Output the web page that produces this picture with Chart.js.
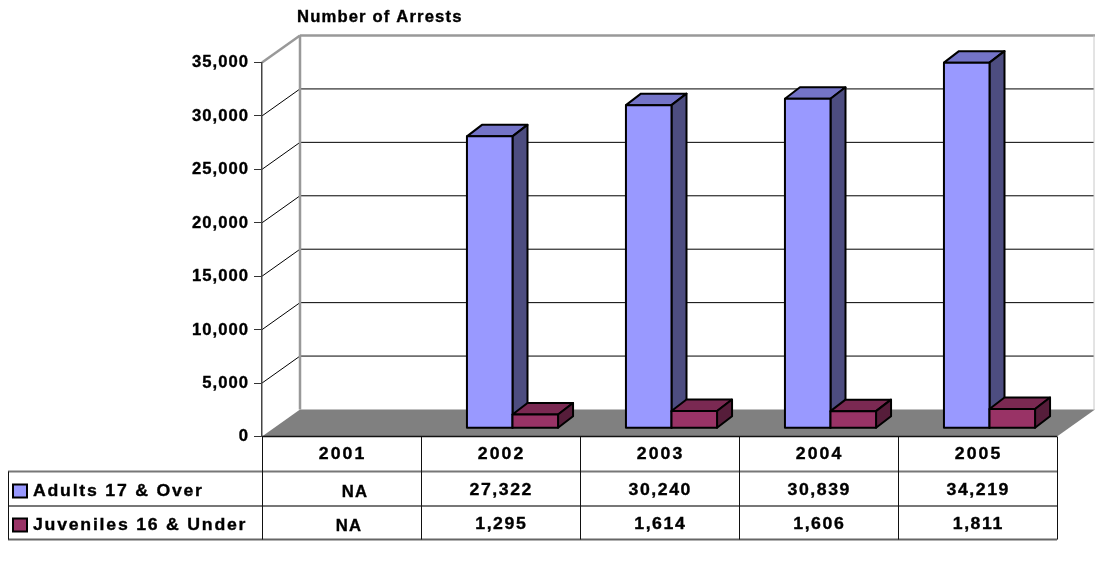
<!DOCTYPE html>
<html><head><meta charset="utf-8">
<script src="https://cdn.jsdelivr.net/npm/chart.js@4.4.0/dist/chart.umd.min.js"></script>
<style>html,body{margin:0;padding:0;background:#fff;}canvas{display:block;}</style>
</head><body>
<canvas id="c" width="1095" height="561"></canvas>
<script>
const chartTitle = 'Number of Arrests';
const categories = ['2001', '2002', '2003', '2004', '2005'];
const seriesNames = ['Adults 17 & Over', 'Juveniles 16 & Under'];
const adults = [null, 27322, 30240, 30839, 34219];
const juveniles = [null, 1295, 1614, 1606, 1811];
const yMax = 35000;
const yStep = 5000;
const missingLabel = 'NA';

const FONT = "'Liberation Sans', Arial, sans-serif";
const WALL = { dx: 38, dy: 27 };
const BAR_POS = { dx: 12, dy: 8.2 };
const BAR_DEPTH = { dx: 15, dy: 11.5 };
const COLORS = [
  { front: '#9999FF', top: '#7474C8', side: '#4D4D80' },
  { front: '#993366', top: '#7A2952', side: '#561D3A' }
];

function poly(ctx, pts, fill, stroke, lw) {
  ctx.beginPath();
  ctx.moveTo(pts[0][0], pts[0][1]);
  for (let i = 1; i < pts.length; i++) ctx.lineTo(pts[i][0], pts[i][1]);
  ctx.closePath();
  if (fill) { ctx.fillStyle = fill; ctx.fill(); }
  if (stroke) { ctx.strokeStyle = stroke; ctx.lineWidth = lw || 1; ctx.stroke(); }
}
function line(ctx, x0, y0, x1, y1, color, lw) {
  ctx.beginPath(); ctx.moveTo(x0, y0); ctx.lineTo(x1, y1);
  ctx.strokeStyle = color; ctx.lineWidth = lw; ctx.stroke();
}
// bold Arial-like text, slightly widened and letter-spaced like the original rendering
function text(ctx, s, x, y, size, ls, align) {
  const sx = 1.04;
  ctx.save();
  ctx.font = 'bold ' + size + 'px ' + FONT;
  ctx.letterSpacing = ls + 'px';
  ctx.fillStyle = '#000';
  ctx.strokeStyle = '#000';
  ctx.lineWidth = 0.35;
  ctx.textAlign = align || 'left';
  ctx.textBaseline = 'middle';
  let shift = 0;
  if (align === 'right') shift = ls * sx;
  else if (align === 'center') shift = ls * sx / 2;
  ctx.translate(x + shift, y);
  ctx.scale(sx, 1);
  ctx.fillText(s, 0, 0);
  ctx.strokeText(s, 0, 0);
  ctx.restore();
}

const scene3d = {
  id: 'scene3d',
  beforeDraw(chart) {
    const ctx = chart.ctx;
    const a = chart.chartArea;
    const ys = chart.scales.y;
    const L = a.left, R = a.right, T = a.top, B = a.bottom;
    const bx = L + WALL.dx, bT = T - WALL.dy, bB = B - WALL.dy, bR = R + WALL.dx - 1;
    ctx.save();
    ctx.fillStyle = '#fff'; ctx.fillRect(0, 0, chart.width, chart.height);
    poly(ctx, [[L, B], [R, B], [R + WALL.dx, bB], [bx, bB]], '#808080');
    ys.ticks.forEach(t => {
      if (t.value <= 0 || t.value >= yMax) return;
      const y = ys.getPixelForValue(t.value);
      line(ctx, L, y, bx, y - WALL.dy, '#000', 1);
      line(ctx, bx, y - WALL.dy, bR, y - WALL.dy, '#000', 1);
    });
    line(ctx, L, T, bx, bT, '#999', 2.5);
    line(ctx, bx, bT, bx, bB, '#999', 2.5);
    line(ctx, bx, bT, bR + 1, bT, '#999', 2.5);
    line(ctx, bR, bT, bR, bB, '#c8c8c8', 1);
    ctx.restore();
  },
  afterDatasetsDraw(chart) {
    const ctx = chart.ctx;
    ctx.save();
    ctx.lineJoin = 'round';
    const n = chart.data.labels.length;
    for (let i = 0; i < n; i++) {
      chart.data.datasets.forEach((ds, di) => {
        const el = chart.getDatasetMeta(di).data[i];
        if (!el || ds.data[i] == null) return;
        const p = el.getProps(['x', 'y', 'base', 'width'], true);
        const c = COLORS[di];
        const x0 = p.x - p.width / 2 + BAR_POS.dx, x1 = p.x + p.width / 2 + BAR_POS.dx;
        const yt = p.y - BAR_POS.dy, yb = p.base - BAR_POS.dy;
        const dx = BAR_DEPTH.dx, dy = BAR_DEPTH.dy;
        poly(ctx, [[x0, yt], [x1, yt], [x1 + dx, yt - dy], [x0 + dx, yt - dy]], c.top, '#000', 2);
        poly(ctx, [[x1, yt], [x1 + dx, yt - dy], [x1 + dx, yb - dy], [x1, yb]], c.side, '#000', 2);
        poly(ctx, [[x0, yt], [x1, yt], [x1, yb], [x0, yb]], c.front, '#000', 2);
      });
    }
    ctx.restore();
  },
  afterDraw(chart) {
    const ctx = chart.ctx;
    const a = chart.chartArea;
    const xs = chart.scales.x, ys = chart.scales.y;
    const n = categories.length;
    const edges = [a.left];
    for (let i = 0; i < n - 1; i++) edges.push((xs.getPixelForValue(i) + xs.getPixelForValue(i + 1)) / 2);
    edges.push(a.right);
    const rowTop = a.bottom, r1 = 471.5, r2 = 506, r3 = 539.5, legL = 8;
    ctx.save();
    ys.ticks.forEach(t => {
      text(ctx, t.label, 248, ys.getPixelForValue(t.value) + 0.5, 16, 1.0, 'right');
    });
    line(ctx, a.left, rowTop, a.right, rowTop, '#111', 1.5);
    line(ctx, legL, r1, a.right, r1, '#777', 2);
    line(ctx, legL, r2, a.right, r2, '#777', 2);
    line(ctx, legL, r3, a.right, r3, '#666', 2);
    edges.forEach(x => line(ctx, Math.round(x) + 0.5, rowTop, Math.round(x) + 0.5, r3, '#111', 1));
    line(ctx, legL + 0.5, r1, legL + 0.5, r3, '#111', 1);
    xs.getLabels().forEach((lab, i) => {
      text(ctx, lab, xs.getPixelForValue(i), 454, 17, 2.0, 'center');
    });
    text(ctx, chartTitle, 297, 17.5, 16, 1.1, 'left');
    const rowsY = [490.5, 524.5];
    const series = [adults, juveniles];
    const naShift = [13, 7];
    series.forEach((vals, si) => {
      const y = rowsY[si];
      ctx.fillStyle = COLORS[si].front;
      ctx.fillRect(13, y - 6, 14, 13);
      ctx.strokeStyle = '#000'; ctx.lineWidth = 2;
      ctx.strokeRect(13, y - 6, 14, 13);
      text(ctx, seriesNames[si], 33, y + 1, 17, 1.7, 'left');
      vals.forEach((v, i) => {
        const cx = (edges[i] + edges[i + 1]) / 2;
        if (v == null) text(ctx, missingLabel, cx + naShift[si], y + 2, 16, 1.2, 'center');
        else text(ctx, v.toLocaleString('en-US'), cx, y, 17, 1.5, 'center');
      });
    });
    ctx.restore();
  }
};

new Chart(document.getElementById('c'), {
  type: 'bar',
  data: {
    labels: categories,
    datasets: [
      { label: seriesNames[0], data: adults, backgroundColor: 'rgba(0,0,0,0)', borderWidth: 0 },
      { label: seriesNames[1], data: juveniles, backgroundColor: 'rgba(0,0,0,0)', borderWidth: 0 }
    ]
  },
  options: {
    responsive: false,
    devicePixelRatio: 1,
    animation: false,
    events: [],
    categoryPercentage: 0.573,
    barPercentage: 1.0,
    layout: { padding: { left: 0, top: 62.5, right: 38, bottom: 0 } },
    plugins: { legend: { display: false }, tooltip: { enabled: false }, title: { display: false } },
    scales: {
      x: {
        grid: { display: false, drawTicks: false },
        border: { display: false },
        ticks: { display: false },
        afterFit(s) { s.height = 124.5; }
      },
      y: {
        min: 0, max: yMax,
        ticks: { display: false, stepSize: yStep, callback: v => v.toLocaleString('en-US') },
        grid: { drawOnChartArea: false, drawTicks: true, tickLength: 8, color: '#333', lineWidth: 1 },
        border: { display: true, color: '#444', width: 1.5 },
        afterFit(s) { s.width = 262; }
      }
    }
  },
  plugins: [scene3d]
});
</script>
</body></html>
